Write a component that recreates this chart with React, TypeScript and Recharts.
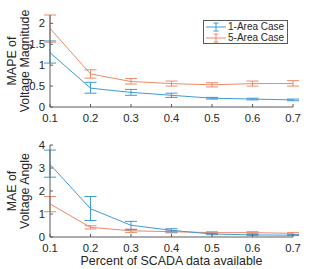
import React from 'react';
import { LineChart, Line, XAxis, YAxis, ErrorBar } from 'recharts';

const percents = [0.1, 0.2, 0.3, 0.4, 0.5, 0.6, 0.7];
const xTicks = [0.1, 0.2, 0.3, 0.4, 0.5, 0.6, 0.7];

// MAPE of voltage magnitude
const magOneArea = [1.3, 0.45, 0.35, 0.28, 0.21, 0.19, 0.17];
const magOneLow = [1.05, 0.33, 0.28, 0.23, 0.19, 0.17, 0.15];
const magOneHigh = [1.58, 0.59, 0.42, 0.33, 0.23, 0.21, 0.19];
const magFiveArea = [1.88, 0.79, 0.61, 0.56, 0.53, 0.56, 0.56];
const magFiveLow = [1.55, 0.69, 0.55, 0.5, 0.48, 0.5, 0.5];
const magFiveHigh = [2.2, 0.89, 0.68, 0.62, 0.58, 0.62, 0.63];
const magTicks = [0, 0.5, 1, 1.5, 2];

// MAE of voltage angle
const angOneArea = [3.16, 1.23, 0.51, 0.29, 0.13, 0.09, 0.08];
const angOneLow = [2.6, 0.72, 0.32, 0.22, 0.1, 0.07, 0.06];
const angOneHigh = [3.78, 1.76, 0.68, 0.36, 0.16, 0.11, 0.1];
const angFiveArea = [1.44, 0.42, 0.27, 0.23, 0.19, 0.19, 0.16];
const angFiveLow = [1.1, 0.35, 0.2, 0.18, 0.15, 0.15, 0.12];
const angFiveHigh = [1.76, 0.49, 0.34, 0.28, 0.23, 0.23, 0.2];
const angTicks = [0, 1, 2, 3, 4];

const seriesNames = ['1-Area Case', '5-Area Case'];
const xAxisTitle = 'Percent of SCADA data available';
const BLUE = '#3f9ad8';
const ORANGE = '#ec8a68';
const AXIS = '#5a5a5a';
const TEXT = '#262626';
const FONT = 'Liberation Sans, Arial, sans-serif';
const TICK_FS = 11.3;
const LABEL_FS = 12.4;

function build(xs: number[], a: number[], aLo: number[], aHi: number[], b: number[], bLo: number[], bHi: number[]) {
  return xs.map((x, i) => ({
    x,
    a: a[i],
    aErr: [a[i] - aLo[i], aHi[i] - a[i]],
    b: b[i],
    bErr: [b[i] - bLo[i], bHi[i] - b[i]],
  }));
}

const magData = build(percents, magOneArea, magOneLow, magOneHigh, magFiveArea, magFiveLow, magFiveHigh);
const angData = build(percents, angOneArea, angOneLow, angOneHigh, angFiveArea, angFiveLow, angFiveHigh);

const tickStyle = { fill: TEXT, fontSize: TICK_FS, fontFamily: FONT };
const noTick = () => <g />;

const YLabel = ({ lines, viewBox }: any) => {
  const cy = viewBox ? viewBox.y + viewBox.height / 2 : 61;
  return (
    <g>
      {lines.map((t: string, i: number) => {
        const x = 12 + i * 12.5;
        return (
          <text
            key={i}
            x={x}
            y={cy}
            transform={`rotate(-90 ${x} ${cy})`}
            textAnchor="middle"
            dominantBaseline="central"
            fill={TEXT}
            fontSize={LABEL_FS}
            fontFamily={FONT}
          >
            {t}
          </text>
        );
      })}
    </g>
  );
};

const XLabel = ({ value, viewBox }: any) => {
  const cx = viewBox ? viewBox.x + viewBox.width / 2 : 171;
  return (
    <text x={cx} y={131} textAnchor="middle" dominantBaseline="central" fill={TEXT} fontSize={LABEL_FS} fontFamily={FONT}>
      {value}
    </text>
  );
};

function Panel({ data, domain, ticks, labelLines, height, xLabel }: any) {
  return (
    <LineChart
      width={318}
      height={height}
      data={data}
      margin={{ top: 15, right: 25, left: 0, bottom: 0 }}
    >
      <XAxis
        dataKey="x"
        type="number"
        domain={[0.1, 0.7]}
        ticks={xTicks}
        tickSize={-3}
        tickMargin={10}
        tick={tickStyle}
        stroke={AXIS}
        height={xLabel ? 32 : 23}
        interval={0}
        label={xLabel ? <XLabel value={xLabel} /> : undefined}
      />
      <XAxis
        xAxisId="top"
        dataKey="x"
        type="number"
        orientation="top"
        domain={[0.1, 0.7]}
        ticks={xTicks}
        tickSize={-3}
        tick={noTick}
        stroke={AXIS}
        height={0}
      />
      <YAxis
        type="number"
        domain={domain}
        ticks={ticks}
        tickSize={-3}
        tickMargin={8}
        tick={tickStyle}
        stroke={AXIS}
        width={50}
        allowDataOverflow
        label={<YLabel lines={labelLines} />}
      />
      <YAxis
        yAxisId="r"
        type="number"
        orientation="right"
        domain={domain}
        ticks={ticks}
        tickSize={-3}
        tick={noTick}
        stroke={AXIS}
        width={0}
      />
      <Line
        dataKey="b"
        stroke={ORANGE}
        strokeWidth={1}
        dot={false}
        isAnimationActive={false}
      >
        <ErrorBar dataKey="bErr" width={6} stroke={ORANGE} strokeWidth={1} direction="y" />
      </Line>
      <Line
        dataKey="a"
        stroke={BLUE}
        strokeWidth={1}
        dot={false}
        isAnimationActive={false}
      >
        <ErrorBar dataKey="aErr" width={6} stroke={BLUE} strokeWidth={1} direction="y" />
      </Line>
    </LineChart>
  );
}

const LegendBox = () => (
  <div
    style={{
      position: 'absolute',
      left: 203,
      top: 20,
      width: 85,
      height: 24,
      border: `1px solid ${AXIS}`,
      background: '#fff',
      boxSizing: 'border-box',
      fontFamily: FONT,
      fontSize: 10,
      color: TEXT,
    }}
  >
    {seriesNames.map((n, i) => {
      const c = i === 0 ? BLUE : ORANGE;
      return (
        <div key={n} style={{ position: 'absolute', left: 1, top: 1 + i * 10.5, height: 10, display: 'flex', alignItems: 'center' }}>
          <svg width={22} height={10} style={{ display: 'block' }}>
            <line x1={1} y1={5} x2={21} y2={5} stroke={c} strokeWidth={1} />
            <line x1={11} y1={1} x2={11} y2={9} stroke={c} strokeWidth={1} />
            <line x1={8.5} y1={1} x2={13.5} y2={1} stroke={c} strokeWidth={1} />
            <line x1={8.5} y1={9} x2={13.5} y2={9} stroke={c} strokeWidth={1} />
          </svg>
          <span style={{ marginLeft: 1, lineHeight: '10px', whiteSpace: 'nowrap' }}>{n}</span>
        </div>
      );
    })}
  </div>
);

export default function App() {
  return (
    <div style={{ position: 'absolute', left: 0, top: 0, width: 318, height: 269, background: '#fff' }}>
      <div style={{ position: 'absolute', left: 0, top: 0 }}>
        <Panel data={magData} domain={[0, 2.2]} ticks={magTicks} labelLines={['MAPE of', 'Voltage Magnitude']} height={130} />
      </div>
      <div style={{ position: 'absolute', left: 0, top: 130 }}>
        <Panel
          data={angData}
          domain={[0, 4]}
          ticks={angTicks}
          labelLines={['MAE of', 'Voltage Angle']}
          height={139}
          xLabel={xAxisTitle}
        />
      </div>
      <LegendBox />
    </div>
  );
}
